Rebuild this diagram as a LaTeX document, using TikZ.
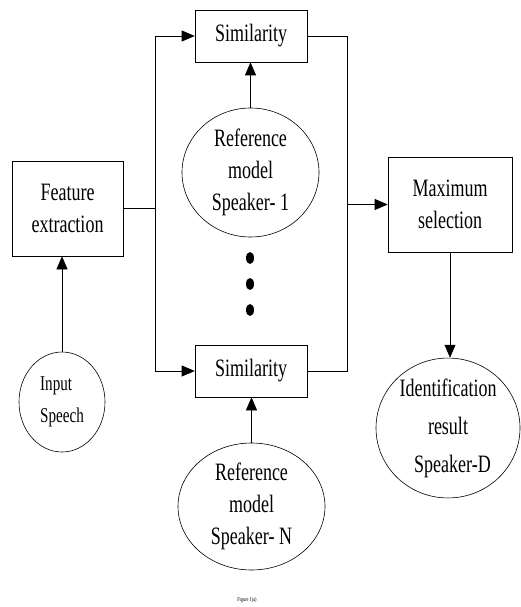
\documentclass[tikz,border=0pt]{standalone}
\usepackage{fontspec}
\setmainfont{Liberation Serif}[FakeStretch=0.72]
\usetikzlibrary{shapes,arrows.meta}

\begin{document}
\begin{tikzpicture}[x=1pt,y=-1pt,semithick,
  box/.style={draw,rectangle,inner sep=0pt,align=center,font=\fontsize{25}{32}\selectfont},
  blob/.style={draw,shape=ellipse,inner sep=0pt,align=center,font=\fontsize{25}{32}\selectfont},
  >={Triangle[length=13pt,width=11pt]}]
  \useasboundingbox (0,0) rectangle (520,607);
  %\draw[help lines] (0,0) grid[step=50] (520,607);
  \node[box,minimum width=111pt,minimum height=95pt] (fe) at (67.5,208.5) {Feature\\extraction};
  \node[box,minimum width=112pt,minimum height=52pt] (sim1) at (251,36) {Similarity};
  \node[box,minimum width=112pt,minimum height=52pt] (simn) at (251,371) {Similarity};
  \node[box,minimum width=124pt,minimum height=95pt] (max) at (450,204.5) {Maximum\\selection};
  \node[blob,minimum width=137pt,minimum height=129pt] (ref1) at (250.5,172.5) {Reference\\model\\Speaker- 1};
  \node[blob,minimum width=147pt,minimum height=127pt] (refn) at (251.5,506.5) {Reference\\model\\Speaker- N};
  \node[blob,minimum width=86pt,minimum height=100pt,align=left,font=\fontsize{21}{32}\selectfont] (in) at (62,402) {Input\\Speech};
  \node[blob,minimum width=144pt,minimum height=120pt,font=\fontsize{25}{38}\selectfont] (id) at (448,428) {Identification\\result\\\ \ Speaker-D};
  \node[font=\fontsize{6}{7}\selectfont] (cap) at (247,600) {Figure 1(a)};
  \coordinate (split) at (155,208.5);
  \coordinate (join) at (347,204.5);
  \draw[->] (in.north) -- (in.north |- fe.south);
  \draw (fe.east) -- (split);
  \draw[->] (split) |- (sim1.west);
  \draw[->] (split) |- (simn.west);
  \draw (sim1.east) -| (join);
  \draw (simn.east) -| (join);
  \draw[->] (join) -- (max.west);
  \draw[->] (ref1.north) -- (ref1.north |- sim1.south);
  \draw[->] (refn.north) -- (refn.north |- simn.south);
  \draw[->] (max.south) -- (max.south |- id.north);
  \foreach \y in {258,284,310}
    \fill (250,\y) ellipse (4 and 6);
\end{tikzpicture}
\end{document}
